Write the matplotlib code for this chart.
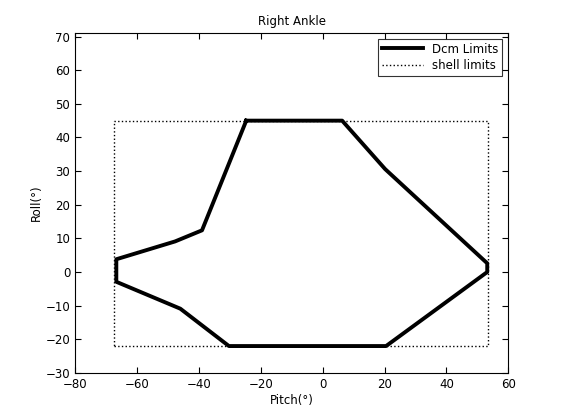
import matplotlib.pyplot as plt

# Dcm limits polygon (pitch, roll) in degrees
dcm_pitch = [-24.7, 6.3, 20.2, 53.2, 53.2, 20.5, -30.3, -46.0, -66.7, -66.7, -47.7, -39.0, -24.7]
dcm_roll = [45.0, 45.0, 30.6, 2.6, 0.0, -22.0, -22.0, -10.9, -2.9, 3.8, 9.1, 12.4, 45.0]

# shell limits rectangle
shell_pitch = [-67.6, 53.5, 53.5, -67.6, -67.6]
shell_roll = [-22.0, -22.0, 45.0, 45.0, -22.0]

fig = plt.figure(figsize=(5.61, 4.2), dpi=100)
ax = fig.add_axes([0.134, 0.112, 0.772, 0.809])
ax.plot(dcm_pitch, dcm_roll, color="black", linewidth=2.8, label="Dcm Limits")
ax.plot(shell_pitch, shell_roll, color="black", linewidth=1.0, linestyle=":", label="shell limits")

ax.set_xlim(-80, 60)
ax.set_ylim(-30, 71)
ax.set_xticks(range(-80, 61, 20))
ax.set_yticks(range(-30, 71, 10))
ax.tick_params(direction="in", top=True, right=True, labelsize=8.5, length=4)
ax.set_xlabel("Pitch(°)", fontsize=8.5, labelpad=2)
ax.set_ylabel("Roll(°)", fontsize=8.5, labelpad=2)
ax.set_title("Right Ankle", fontsize=8.5)
leg = ax.legend(loc="upper right", fontsize=8.5, fancybox=False, edgecolor="black",
                handlelength=3.5, borderpad=0.3, labelspacing=0.3)
leg.get_frame().set_linewidth(0.8)

fig.savefig("out.png", dpi=100)
